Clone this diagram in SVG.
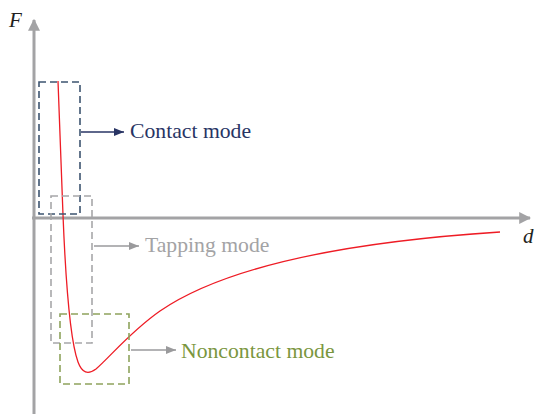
<svg xmlns="http://www.w3.org/2000/svg" width="536" height="414" viewBox="0 0 536 414">
<defs>
<style>
.axis{stroke:#a3a3a5;stroke-width:3;fill:none}
.lbl{font-family:'Liberation Serif','DejaVu Serif','Times New Roman',serif;font-size:21.7px}
.ax{font-family:'Liberation Serif','DejaVu Serif','Times New Roman',serif;font-size:21px;font-style:italic;fill:#231f20}
.box{fill:none;stroke-width:1.6;stroke-dasharray:7,4}
</style>
<marker id="ah" viewBox="0 0 10 10" refX="10" refY="5" markerWidth="10" markerHeight="10" markerUnits="userSpaceOnUse" orient="auto"><path d="M0,1 L10,5 L0,9 Z" fill="context-stroke"/></marker>
<marker id="axh" viewBox="0 0 10 10" refX="9" refY="5" markerWidth="4" markerHeight="4" orient="auto"><path d="M0,0 L10,5 L0,10 Z" fill="#a3a3a5"/></marker>
</defs>
<g id="axes">
<line class="axis" x1="34" y1="414" x2="34" y2="20" marker-end="url(#axh)"/>
<line class="axis" x1="32" y1="218" x2="530" y2="218" marker-end="url(#axh)"/>
<text class="ax" x="9" y="27">F</text>
<text class="ax" x="523" y="243">d</text>
</g>
<g id="curve">
<path d="M58,81 L63,215 C66,290 70,340 78,362 C82,373 88,375 96,369 C110,357 130,332 160,311 C220,270 330,243 500,232" fill="none" stroke="#ee1c25" stroke-width="1.3"/>
</g>
<g id="contact">
<rect class="box" x="39" y="82" width="41" height="132" stroke="#3d5470"/>
<text class="lbl" x="130" y="138" fill="#283464">Contact mode</text>
</g>
<g id="tapping">
<rect class="box" x="51" y="196" width="41" height="147" stroke="#a7a7a9"/>
<text class="lbl" x="145" y="252" fill="#a3a3a5">Tapping mode</text>
</g>
<g id="noncontact">
<rect class="box" x="60" y="314" width="69" height="70" stroke="#8ea35c"/>
<text class="lbl" x="181" y="358" fill="#7a963e">Noncontact mode</text>
</g>
<g id="connectors">
<line x1="81" y1="132" x2="124" y2="132" stroke="#283464" stroke-width="1.4" marker-end="url(#ah)"/>
<line x1="94" y1="246" x2="139" y2="246" stroke="#9a9a9c" stroke-width="1.4" marker-end="url(#ah)"/>
<line x1="131" y1="350" x2="176" y2="350" stroke="#9a9a9c" stroke-width="1.4" marker-end="url(#ah)"/>
</g>
</svg>
